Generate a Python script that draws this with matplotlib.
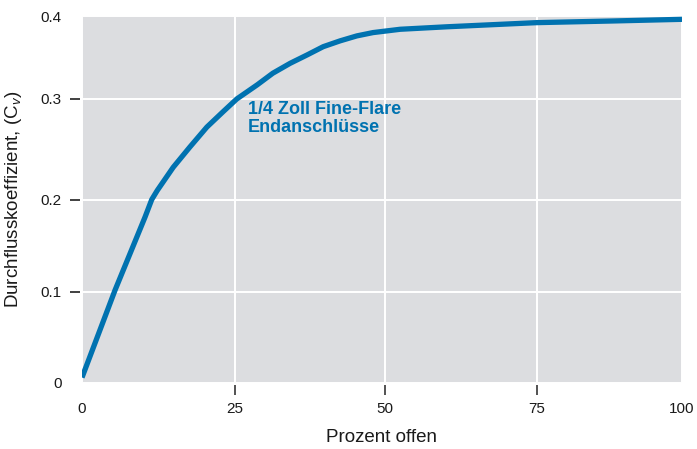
import numpy as np
import matplotlib
matplotlib.use("Agg")
import matplotlib.pyplot as plt
from matplotlib import markers
from matplotlib.transforms import ScaledTranslation

# ---- data ----
percent_open = [0, 5.4, 10.3, 11.4, 12.3, 14.9, 17.6, 20.4, 23.0, 25.3, 28.7, 31.3, 34.2,
                37.0, 39.7, 42.5, 45.3, 48.0, 52.5, 60.2, 75.0, 88.1, 100]
cv_values    = [0.006, 0.102, 0.181, 0.200, 0.209, 0.232, 0.252, 0.272, 0.287, 0.300, 0.317, 0.331, 0.343,
                0.353, 0.363, 0.370, 0.376, 0.380, 0.384, 0.387, 0.392, 0.394, 0.396]
x_ticks = [0, 25, 50, 75, 100]
x_tick_labels = ["0", "25", "50", "75", "100"]
y_ticks = [0, 0.1, 0.2, 0.3, 0.4]
y_tick_labels = ["0", "0.1", "0.2", "0.3", "0.4"]
series_label = "1/4 Zoll Fine-Flare\nEndanschlüsse"
x_label = "Prozent offen"
y_label = r"Durchflusskoeffizient, (C$_{v}$)"

# axis scales as drawn in the original (slightly uneven spacing)
x_frac = [0, 0.255, 0.505, 0.758, 1.0]
y_frac = [0, 0.248, 0.5, 0.774, 1.0]

def fx(v): return np.interp(v, x_ticks, x_frac)
def ix(v): return np.interp(v, x_frac, x_ticks)
def fy(v): return np.interp(v, y_ticks, y_frac)
def iy(v): return np.interp(v, y_frac, y_ticks)

plt.rcParams['font.family'] = ['Liberation Sans', 'DejaVu Sans']
plt.rcParams['mathtext.fontset'] = 'custom'
plt.rcParams['mathtext.rm'] = 'Liberation Sans'
plt.rcParams['mathtext.it'] = 'Liberation Sans:italic'

W, H = 697, 449
fig = plt.figure(figsize=(W/100, H/100), dpi=100)
ax = fig.add_axes([82/W, (H-383)/H, 600/W, 367/H])

bg = "#dcdde0"
blue = "#0072b0"
tick_grey = "#444444"
ax.set_facecolor(bg)

ax.set_xscale('function', functions=(fx, ix))
ax.set_yscale('function', functions=(fy, iy))
ax.set_xlim(0, 100)
ax.set_ylim(0, 0.4)

for s in ax.spines.values():
    s.set_visible(False)
ax.spines['bottom'].set_position(('outward', 1.5))
ax.spines['left'].set_position(('outward', 1.5))

ax.set_xticks(x_ticks)
ax.set_xticklabels(x_tick_labels)
ax.set_yticks(y_ticks)
ax.set_yticklabels(y_tick_labels)
ax.minorticks_off()
ax.tick_params(axis='x', which='major', pad=5.3, labelsize=11, labelcolor="#1a1a1a")
ax.tick_params(axis='y', which='major', pad=5.8, labelsize=11, labelcolor="#1a1a1a")
ax.tick_params(axis='both', which='major', length=7.2, width=1.3, color=tick_grey)

ax.grid(True, which='major', color='white', linewidth=1.4)
ax.set_axisbelow(True)

# y tick marks drawn explicitly at the inner ticks (same place as axis ticks)
tick_tr = ax.get_yaxis_transform() + ScaledTranslation(-1.5/72, 0, fig.dpi_scale_trans)
ax.plot([0] * len(y_ticks[1:-1]), y_ticks[1:-1], transform=tick_tr, linestyle='none',
        marker=markers.TICKLEFT, markersize=7.2, markeredgewidth=1.3,
        color=tick_grey, clip_on=False, zorder=5)

ax.plot(percent_open, cv_values, color=blue, linewidth=3.8,
        solid_capstyle='butt', solid_joinstyle='round', zorder=3)

ax.text(27.2, 0.2976, series_label, color=blue, fontsize=13, fontweight='bold',
        ha='left', va='top', linespacing=1.02, zorder=4)

ax.set_xlabel(x_label, fontsize=13.5, color="#1a1a1a")
ax.set_ylabel(y_label, fontsize=13.5, color="#1a1a1a")
ax.xaxis.set_label_coords(0.5, -(437-383)/367)
ax.xaxis.label.set_va('center')
ax.yaxis.set_label_coords(-(82-14)/600, 0.5)
ax.yaxis.label.set_va('center')

fig.canvas.draw()
# no tick marks at the ends of the axes
for axis in (ax.xaxis, ax.yaxis):
    ticks = axis.get_major_ticks()
    for i, t in enumerate(ticks):
        t.tick1line.set_visible(0 < i < len(ticks) - 1)

fig.savefig("out.png", dpi=100, facecolor='white')
